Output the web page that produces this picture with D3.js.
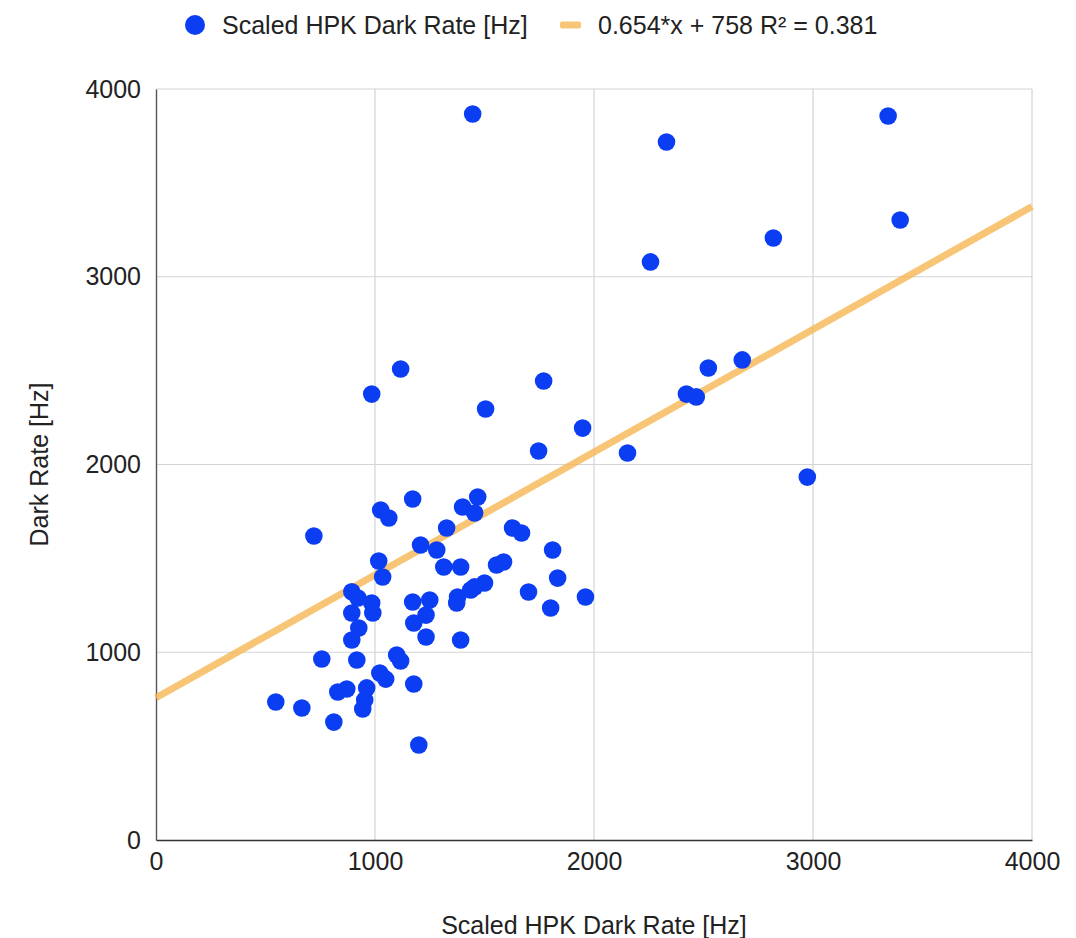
<!DOCTYPE html>
<html>
<head>
<meta charset="utf-8">
<script src="https://cdn.jsdelivr.net/npm/d3@7/dist/d3.min.js"></script>
<style>
  html, body { margin: 0; padding: 0; background: #fff; }
  svg { display: block; }
  text { font-family: "Liberation Sans", Arial, sans-serif; fill: #222; }
</style>
</head>
<body>
<svg id="chart" width="1076" height="938"></svg>
<script>
// Scaled HPK dark rate (x) vs measured dark rate (y), both in Hz
const scaledHpk = [
  1446, 2331, 3343, 3398, 2258, 2819, 2677, 2522, 2422, 2467,
  2974, 2153, 1948, 1770, 1505, 1747, 1117, 985, 721, 1026,
  1063, 1172, 1400, 1469, 1455, 1327, 1208, 1282, 1314, 1391,
  1628, 1669, 1811, 1555, 1587, 1834, 1701, 1961, 1802, 1500,
  1455, 1437, 1377, 1373, 1017, 1035, 894, 922, 985, 990,
  894, 926, 894, 1172, 1250, 1233, 1177, 1233, 1391, 757,
  917, 1099, 1117, 1022, 1049, 1177, 830, 871, 962, 953,
  944, 547, 666, 812, 1200
];
const darkRate = [
  3867, 3718, 3856, 3302, 3079, 3206, 2557, 2514, 2375, 2360,
  1933, 2061, 2194, 2445, 2296, 2072, 2509, 2375, 1619, 1758,
  1715, 1816, 1774, 1827, 1742, 1662, 1571, 1545, 1454, 1454,
  1662, 1635, 1545, 1465, 1481, 1395, 1321, 1294, 1236, 1369,
  1348, 1332, 1294, 1262, 1486, 1401, 1322, 1289, 1262, 1209,
  1209, 1129, 1065, 1268, 1278, 1198, 1156, 1081, 1065, 964,
  959, 985, 953, 889, 857, 831, 788, 804, 810, 746,
  698, 735, 703, 628, 506
];

// Linear trendline: y = slope * x + intercept
const slope = 0.654;
const intercept = 758;
const rSquared = 0.381;

const xTicks = [0, 1000, 2000, 3000, 4000];
const yTicks = [0, 1000, 2000, 3000, 4000];

const seriesLabel = "Scaled HPK Dark Rate [Hz]";
const trendLabel = `${slope}*x + ${intercept} R\u00B2 = ${rSquared}`;
const xTitle = "Scaled HPK Dark Rate [Hz]";
const yTitle = "Dark Rate [Hz]";

const pointColor = "#0b3ef2";
const trendColor = "#f6b552";

const svg = d3.select("#chart");
const plot = { left: 156, right: 1032, top: 89, bottom: 840 };

const x = d3.scaleLinear().domain([0, 4000]).range([plot.left, plot.right]);
const y = d3.scaleLinear().domain([0, 4000]).range([plot.bottom, plot.top]);

const fontSize = 25;

// Gridlines
svg.append("g")
  .selectAll("line.vgrid")
  .data(xTicks.slice(1))
  .join("line")
  .attr("x1", d => x(d)).attr("x2", d => x(d))
  .attr("y1", plot.top).attr("y2", plot.bottom)
  .attr("stroke", "#d4d4d4").attr("stroke-width", 1.2);

svg.append("g")
  .selectAll("line.hgrid")
  .data(yTicks.slice(1))
  .join("line")
  .attr("x1", plot.left).attr("x2", plot.right)
  .attr("y1", d => y(d)).attr("y2", d => y(d))
  .attr("stroke", "#d4d4d4").attr("stroke-width", 1.2);

// Axes
const xAxis = d3.axisBottom(x).tickValues(xTicks).tickSize(0).tickPadding(12).tickFormat(d3.format("d"));
const yAxis = d3.axisLeft(y).tickValues(yTicks).tickSize(0).tickPadding(15).tickFormat(d3.format("d"));

const gx = svg.append("g").attr("transform", `translate(0,${plot.bottom})`).call(xAxis);
gx.select(".domain").attr("stroke", "#333").attr("stroke-width", 1.6);
gx.selectAll("text").style("font-size", fontSize + "px").attr("fill", "#222");

const gy = svg.append("g").attr("transform", `translate(${plot.left},0)`).call(yAxis);
gy.select(".domain").attr("stroke", "#555").attr("stroke-width", 1.4);
gy.selectAll("text").style("font-size", fontSize + "px").attr("fill", "#222");

// Trendline
const trend = [0, 4000].map(v => ({ x: v, y: slope * v + intercept }));
svg.append("path")
  .datum(trend)
  .attr("d", d3.line().x(d => x(d.x)).y(d => y(d.y)))
  .attr("stroke", trendColor)
  .attr("stroke-opacity", 0.8)
  .attr("stroke-width", 7)
  .attr("fill", "none");

// Points
const points = scaledHpk.map((v, i) => ({ x: v, y: darkRate[i] }));
svg.append("g")
  .selectAll("circle")
  .data(points)
  .join("circle")
  .attr("cx", d => x(d.x))
  .attr("cy", d => y(d.y))
  .attr("r", 8.8)
  .attr("fill", pointColor);

// Axis titles
svg.append("text")
  .attr("x", (plot.left + plot.right) / 2)
  .attr("y", 934)
  .attr("text-anchor", "middle")
  .style("font-size", fontSize + "px")
  .text(xTitle);

svg.append("text")
  .attr("transform", `translate(48,${(plot.top + plot.bottom) / 2}) rotate(-90)`)
  .attr("text-anchor", "middle")
  .style("font-size", fontSize + "px")
  .text(yTitle);

// Legend
const legend = svg.append("g");
legend.append("circle").attr("cx", 195).attr("cy", 25).attr("r", 10).attr("fill", pointColor);
legend.append("text").attr("x", 222).attr("y", 34).style("font-size", fontSize + "px").text(seriesLabel);
legend.append("rect").attr("x", 560).attr("y", 21.5).attr("width", 21).attr("height", 7).attr("rx", 2)
  .attr("fill", trendColor).attr("fill-opacity", 0.8);
legend.append("text").attr("x", 598).attr("y", 34).style("font-size", fontSize + "px").text(trendLabel);
</script>
</body>
</html>
